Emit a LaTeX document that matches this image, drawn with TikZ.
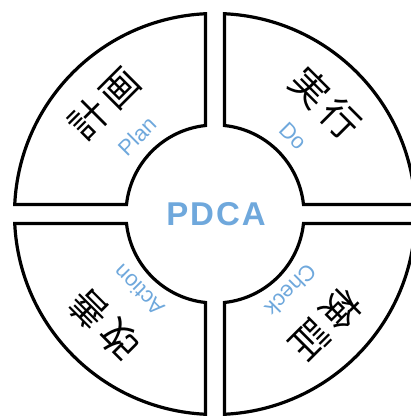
\documentclass[tikz,border=0pt]{standalone}
\usepackage{fontspec}
\setmainfont{Liberation Sans}
\newfontfamily\jpfont{Noto Sans CJK JP}
\definecolor{pdcablue}{RGB}{111,168,220}

\begin{document}
\begin{tikzpicture}[x=1pt, y=1pt,
		seg/.style={line width=3.2pt, line join=miter},
		jp/.style={font=\jpfont\fontsize{38}{38}\selectfont},
		en/.style={text=pdcablue, font=\fontsize{22}{22}\selectfont}]
	\useasboundingbox (-215,-203) rectangle (196,214);
	\clip (-215,-203) rectangle (196,214);
	\def\rin{89}
	\def\rout{200.5}
	\def\gap{9.5}
	\pgfmathsetmacro{\ai}{asin(\gap/\rin)}
	\pgfmathsetmacro{\ao}{asin(\gap/\rout)}
	\pgfmathsetmacro{\bi}{90-\ai}
	\pgfmathsetmacro{\bo}{90-\ao}

	% Four quarter rings, one per step
	\foreach \r in {0,90,180,270}{
		\begin{scope}[rotate=\r]
			\draw[seg] (\bi:\rin) -- (\bo:\rout)
				arc[start angle=\bo, end angle=\ao, radius=\rout]
				-- (\ai:\rin)
				arc[start angle=\ai, end angle=\bi, radius=\rin] -- cycle;
		\end{scope}
	}

	% Title in the middle
	\node[text=pdcablue, font=\bfseries\fontsize{33}{33}\selectfont\addfontfeatures{LetterSpace=6}] (pdca) at (1,0) {PDCA};

	% Step names
	\node[jp, rotate=45] (keikaku) at (135:157) {計\kern6pt画};
	\node[jp, rotate=-45] (jikko) at (45:157) {実\kern6pt行};
	\node[jp, rotate=-135] (kensho) at (-45:157) {検\kern6pt証};
	\node[jp, rotate=135] (kaizen) at (-135:157) {改\kern6pt善};

	% English labels
	\node[en, rotate=45] (plan) at (135:110) {Plan};
	\node[en, rotate=-45] (do) at (45:110) {Do};
	\node[en, rotate=-135] (check) at (-45:108) {Check};
	\node[en, rotate=135] (act) at (-135:108) {Action};
\end{tikzpicture}
\end{document}
